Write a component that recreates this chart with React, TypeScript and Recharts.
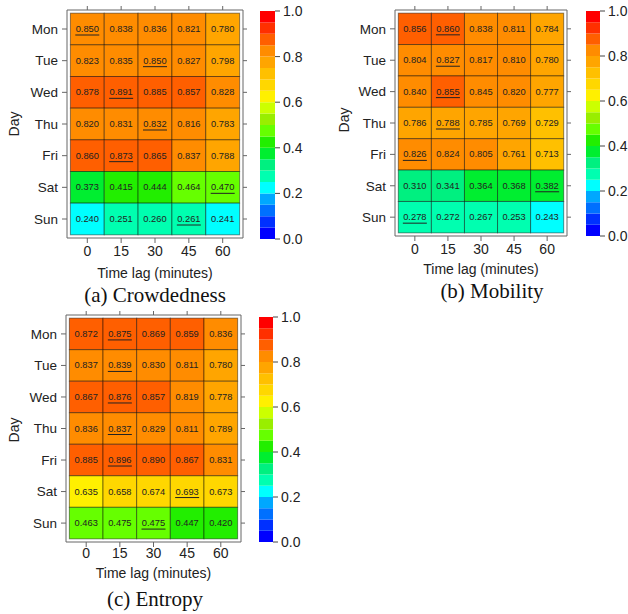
import { ScatterChart, Scatter, XAxis, YAxis, BarChart, Bar } from "recharts";

const DAYS = ["Mon", "Tue", "Wed", "Thu", "Fri", "Sat", "Sun"];
const DAY_TICKS = [0, 1, 2, 3, 4, 5, 6];
const LAGS = [0, 15, 30, 45, 60];

// rows = days (Mon..Sun), columns = time lag
const crowdedness = [
  [0.85, 0.838, 0.836, 0.821, 0.78],
  [0.823, 0.835, 0.85, 0.827, 0.798],
  [0.878, 0.891, 0.885, 0.857, 0.828],
  [0.82, 0.831, 0.832, 0.816, 0.783],
  [0.86, 0.873, 0.865, 0.837, 0.788],
  [0.373, 0.415, 0.444, 0.464, 0.47],
  [0.24, 0.251, 0.26, 0.261, 0.241],
];
const crowdednessBest = [0, 2, 1, 2, 1, 4, 3];

const mobility = [
  [0.856, 0.86, 0.838, 0.811, 0.784],
  [0.804, 0.827, 0.817, 0.81, 0.78],
  [0.84, 0.855, 0.845, 0.82, 0.777],
  [0.786, 0.788, 0.785, 0.769, 0.729],
  [0.826, 0.824, 0.805, 0.761, 0.713],
  [0.31, 0.341, 0.364, 0.368, 0.382],
  [0.278, 0.272, 0.267, 0.253, 0.243],
];
const mobilityBest = [1, 1, 1, 1, 0, 4, 0];

const entropy = [
  [0.872, 0.875, 0.869, 0.859, 0.836],
  [0.837, 0.839, 0.83, 0.811, 0.78],
  [0.867, 0.876, 0.857, 0.819, 0.778],
  [0.836, 0.837, 0.829, 0.811, 0.789],
  [0.885, 0.896, 0.89, 0.867, 0.831],
  [0.635, 0.658, 0.674, 0.693, 0.673],
  [0.463, 0.475, 0.475, 0.447, 0.42],
];
const entropyBest = [1, 1, 1, 1, 1, 3, 2];

// 20 colour levels, 0.05 each, from 0 (bottom) to 1 (top)
const CBAR_COLORS = [
  "#0000ff", "#0030ff", "#0070ff", "#00a8ff", "#00ffff",
  "#00ffb0", "#00f080", "#00ee30", "#22ee00", "#66ff00",
  "#99ee00", "#ccff00", "#fff000", "#ffd700", "#ffc000",
  "#ffa500", "#ff8c00", "#ff5f00", "#ff3000", "#ff0000",
];
const CBAR_TICKS = [0, 0.2, 0.4, 0.6, 0.8, 1];

const FONT = "'Liberation Sans', Arial, sans-serif";
const SERIF = "'Liberation Serif', 'Times New Roman', serif";

function levelColor(v: number) {
  const i = Math.min(19, Math.max(0, Math.ceil(v * 20 - 1e-6) - 1));
  return CBAR_COLORS[i];
}

type Box = { x: number; y: number; w: number; h: number };

interface HeatmapProps {
  values: number[][];
  best: number[];
  frame: Box;
  tickY: number;
  titleY: number;
}

function Heatmap({ values, best, frame, tickY, titleY }: HeatmapProps) {
  const Y_W = 60;
  const R_W = 6;
  const T_H = 6;
  const bottom = frame.y + frame.h;
  const bottomH = titleY + 5 - bottom + 5;
  const cellW = (frame.w * 15) / 78;
  const cellH = frame.h / 7.2;
  const data = values.flatMap((row, d) =>
    row.map((v, l) => ({ lag: LAGS[l], day: d, v, best: best[d] === l }))
  );

  const renderCell = (p: any) => {
    const { cx, cy, payload } = p;
    return (
      <g>
        <rect
          x={cx - cellW / 2}
          y={cy - cellH / 2}
          width={cellW}
          height={cellH}
          fill={levelColor(payload.v)}
          stroke="rgba(0,0,0,0.45)"
          strokeWidth={1}
        />
        <text
          x={cx}
          y={cy}
          textAnchor="middle"
          dominantBaseline="central"
          fontSize={9.3}
          fontFamily={FONT}
          fill="#222"
        >
          {payload.v.toFixed(3)}
        </text>
        {payload.best && (
          <line x1={cx - 12} x2={cx + 12} y1={cy + 6} y2={cy + 6} stroke="#222" strokeWidth={1} />
        )}
      </g>
    );
  };

  const xText = { fontSize: 14, fill: "#222", fontFamily: FONT };
  const yText = { fontSize: 13.5, fill: "#222", fontFamily: FONT };
  const line = { stroke: "#666" };

  return (
    <div style={{ position: "absolute", left: frame.x - Y_W, top: frame.y - T_H }}>
      <ScatterChart
        width={Y_W + frame.w + R_W}
        height={T_H + frame.h + bottomH}
        margin={{ top: 0, right: 0, bottom: 0, left: 0 }}
      >
        <XAxis
          xAxisId="b"
          type="number"
          dataKey="lag"
          domain={[-9, 69]}
          allowDataOverflow
          ticks={LAGS}
          height={bottomH}
          tickSize={5}
          tickMargin={tickY - 7 - bottom - 5}
          tick={xText}
          tickLine={line}
          axisLine={line}
          label={{
            value: "Time lag (minutes)",
            position: "insideBottom",
            offset: 5,
            style: { fontSize: 14, fill: "#222", fontFamily: FONT },
          }}
        />
        <XAxis
          xAxisId="t"
          orientation="top"
          type="number"
          dataKey="lag"
          domain={[-9, 69]}
          allowDataOverflow
          ticks={LAGS}
          height={T_H}
          tickSize={4}
          tickFormatter={() => ""}
          tickLine={line}
          axisLine={line}
        />
        <YAxis
          yAxisId="l"
          type="number"
          dataKey="day"
          domain={[-0.6, 6.6]}
          allowDataOverflow
          reversed
          ticks={DAY_TICKS}
          tickFormatter={(i: number) => DAYS[i]}
          width={Y_W}
          tickSize={5}
          tickMargin={4}
          tick={yText}
          tickLine={line}
          axisLine={line}
        />
        <YAxis
          yAxisId="r"
          orientation="right"
          type="number"
          dataKey="day"
          domain={[-0.6, 6.6]}
          allowDataOverflow
          reversed
          ticks={DAY_TICKS}
          width={R_W}
          tickSize={4}
          tickFormatter={() => ""}
          tickLine={line}
          axisLine={line}
        />
        <Scatter
          xAxisId="b"
          yAxisId="l"
          data={data}
          shape={renderCell}
          isAnimationActive={false}
        />
      </ScatterChart>
    </div>
  );
}

function ColorBar({ box }: { box: Box }) {
  const AX_W = 40;
  const PAD = 8;
  const data = [Object.fromEntries(CBAR_COLORS.map((_, i) => [`c${i}`, 0.05]))];
  return (
    <div style={{ position: "absolute", left: box.x, top: box.y - PAD }}>
      <BarChart
        width={box.w + AX_W}
        height={box.h + 2 * PAD}
        data={data}
        margin={{ top: PAD, bottom: PAD, left: 0, right: 0 }}
        barCategoryGap={0}
      >
        <XAxis hide />
        <YAxis
          orientation="right"
          width={AX_W}
          domain={[0, 1]}
          allowDataOverflow
          ticks={CBAR_TICKS}
          tickFormatter={(v: number) => v.toFixed(1)}
          tickSize={5}
          tickMargin={3}
          axisLine={false}
          tick={{ fontSize: 14, fill: "#222", fontFamily: FONT }}
          tickLine={{ stroke: "#444" }}
        />
        {CBAR_COLORS.map((c, i) => (
          <Bar key={i} dataKey={`c${i}`} stackId="cb" fill={c} isAnimationActive={false} />
        ))}
      </BarChart>
    </div>
  );
}

function DayLabel({ x, y }: { x: number; y: number }) {
  return (
    <div
      style={{
        position: "absolute",
        left: x,
        top: y,
        transform: "translate(-50%, -50%) rotate(-90deg)",
        fontFamily: FONT,
        fontSize: 14,
        color: "#222",
        whiteSpace: "nowrap",
      }}
    >
      Day
    </div>
  );
}

function Caption({ x, y, text }: { x: number; y: number; text: string }) {
  return (
    <div
      style={{
        position: "absolute",
        left: x - 120,
        top: y - 13,
        width: 240,
        textAlign: "center",
        fontFamily: SERIF,
        fontSize: 21,
        lineHeight: "26px",
        color: "#111",
      }}
    >
      {text}
    </div>
  );
}

export default function App() {
  return (
    <div
      style={{
        position: "absolute",
        left: 0,
        top: 0,
        width: 628,
        height: 614,
        background: "#fff",
        overflow: "hidden",
      }}
    >
      <Heatmap values={crowdedness} best={crowdednessBest} frame={{ x: 67, y: 10, w: 176, h: 228 }} tickY={253} titleY={273} />
      <ColorBar box={{ x: 260, y: 11, w: 15, h: 228 }} />
      <DayLabel x={14} y={124} />
      <Caption x={155} y={295} text="(a) Crowdedness" />

      <Heatmap values={mobility} best={mobilityBest} frame={{ x: 395, y: 10, w: 172, h: 226 }} tickY={251} titleY={269} />
      <ColorBar box={{ x: 586, y: 11, w: 14, h: 225 }} />
      <DayLabel x={344} y={120} />
      <Caption x={492} y={291} text="(b) Mobility" />

      <Heatmap values={entropy} best={entropyBest} frame={{ x: 66, y: 315, w: 175, h: 227 }} tickY={555} titleY={573} />
      <ColorBar box={{ x: 259, y: 317, w: 14, h: 225 }} />
      <DayLabel x={14} y={430} />
      <Caption x={155} y={599} text="(c) Entropy" />
    </div>
  );
}
